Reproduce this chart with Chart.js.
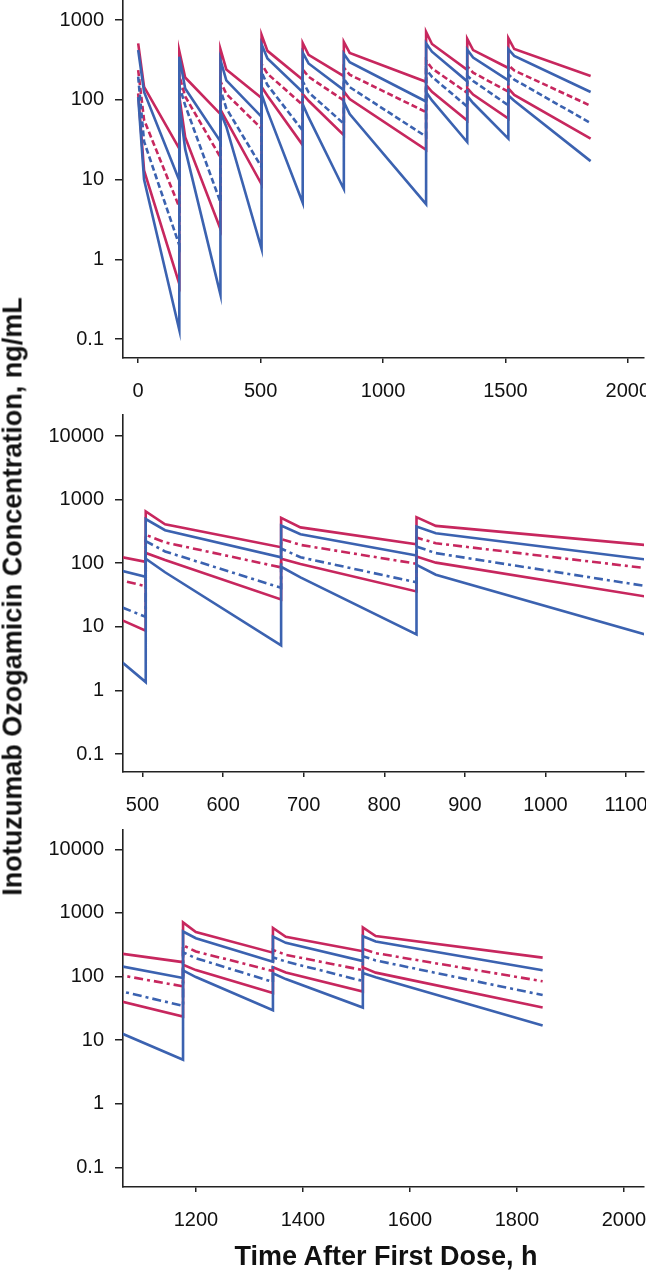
<!DOCTYPE html>
<html>
<head>
<meta charset="utf-8">
<script src="https://cdn.jsdelivr.net/npm/chart.js@4.4.1/dist/chart.umd.min.js"></script>
<style>
  body { margin: 0; background: #fff; }
  #page { position: relative; width: 646px; height: 1271px; overflow: hidden; }
  canvas { position: absolute; left: 0; }
  .title { position: absolute; font-family: "Liberation Sans", Arial, sans-serif; font-weight: bold; font-size: 27px; color: #111; white-space: nowrap; text-align: center; }
</style>
</head>
<body>
<div id="page">
  <canvas id="c1" width="646" height="410" style="top:0px"></canvas>
  <canvas id="c2" width="646" height="420" style="top:410px"></canvas>
  <canvas id="c3" width="646" height="443" style="top:828px"></canvas>
  <div class="title" id="ytitle" style="left:-337px; top:581px; width:700px; transform:rotate(-90deg);">Inotuzumab Ozogamicin Concentration, ng/mL</div>
  <div class="title" style="left:86px; top:1241px; width:600px;">Time After First Dose, h</div>
</div>
<script>
// time points: dose, dose + 24 h, next dose (trough)
const times = [0, 24, 168, 168, 192, 336, 336, 360, 504, 504, 528, 672, 672, 696, 840,
               840, 864, 1176, 1176, 1200, 1344, 1344, 1368, 1512, 1512, 1536, 1848];

// concentrations, ng/mL
const redUpper   = [510, 145, 24.4, 408, 190, 66, 430, 240, 105, 650, 410, 178, 515, 366, 198,
                    530, 386, 168, 710, 500, 237, 580, 420, 250, 592, 432, 198];
const redMedian  = [235, 56, 4.5, 200, 110, 19, 170, 118, 43.5, 280, 212, 86, 240, 194, 98,
                    253, 206, 70, 310, 247, 122, 262, 219, 126, 272, 233, 84];
const redLower   = [120, 13, 0.49, 110, 34, 2.4, 75, 55, 8.7, 145, 112, 27, 118, 97, 36,
                    127, 102, 23.5, 153, 126, 55, 140, 116, 58, 139, 115, 32.5];
const blueUpper  = [420, 125, 9.7, 345, 138, 30, 315, 175, 61, 495, 330, 124, 390, 285, 132,
                    377, 296, 95, 510, 400, 170, 425, 338, 175, 430, 354, 125];
const blueMedian = [195, 30, 1.5, 150, 85, 5.2, 135, 78, 14.3, 222, 153, 41, 170, 124, 50,
                    183, 144, 34.5, 240, 194, 82, 200, 172, 85, 208, 179, 51];
const blueLower  = [108, 10, 0.13, 90, 24, 0.36, 70, 46, 1.35, 118, 72, 5.1, 88, 60, 7.6,
                    94, 66, 4.9, 125, 98, 29.5, 112, 91, 32.5, 113, 97, 17];

// axis ticks
const xTicksTop = [0, 500, 1000, 1500, 2000];
const xTicksMid = [500, 600, 700, 800, 900, 1000, 1100];
const xTicksBottom = [1200, 1400, 1600, 1800, 2000];
const yTicksTop = [0.1, 1, 10, 100, 1000];
const yTicksZoom = [0.1, 1, 10, 100, 1000, 10000];

const RED = '#C7275E';
const BLUE = '#3B62B0';
const AXIS = '#222';
const FONT = '"Liberation Sans", Arial, sans-serif';

function pts(values) {
    return times.map((t, i) => ({ x: t, y: values[i] }));
}

function line(values, color, dash, order) {
    return {
        data: pts(values),
        borderColor: color,
        borderWidth: 2.6,
        borderDash: dash,
        pointRadius: 0,
        tension: 0,
        order: order
    };
}

function makePanel(id, opt) {
    const ctx = document.getElementById(id);
    return new Chart(ctx, {
        type: 'line',
        data: {
            datasets: [
                line(blueUpper, BLUE, [], 0),
                line(blueMedian, BLUE, opt.dash, 0),
                line(blueLower, BLUE, [], 0),
                line(redUpper, RED, [], 1),
                line(redMedian, RED, opt.dash, 1),
                line(redLower, RED, [], 1)
            ]
        },
        options: {
            responsive: false,
            animation: false,
            layout: { padding: { top: opt.padTop, right: 2, left: 0, bottom: 0 } },
            plugins: { legend: { display: false }, tooltip: { enabled: false } },
            scales: {
                x: {
                    type: 'linear',
                    min: opt.xMin,
                    max: opt.xMax,
                    border: { display: true, color: AXIS, width: 1.6 },
                    grid: { drawOnChartArea: false, drawTicks: true, tickLength: 5, color: AXIS, lineWidth: 1.5 },
                    ticks: {
                        padding: 16,
                        color: '#111',
                        font: { family: FONT, size: 20 },
                        maxRotation: 0,
                        callback: v => String(v)
                    },
                    afterBuildTicks: s => { s.ticks = opt.xTicks.map(v => ({ value: v })); },
                    afterFit: s => {
                        s.height = opt.xHeight;
                        s.paddingLeft = 0; s.paddingRight = 0;
                        s.paddingTop = 0; s.paddingBottom = 0;
                    }
                },
                y: {
                    type: 'logarithmic',
                    min: opt.yMin,
                    max: opt.yMax,
                    border: { display: true, color: AXIS, width: 1.6 },
                    grid: { drawOnChartArea: false, drawTicks: true, tickLength: 8, color: AXIS, lineWidth: 1.5 },
                    ticks: {
                        padding: 11,
                        color: '#111',
                        font: { family: FONT, size: 20 },
                        callback: v => String(v)
                    },
                    afterBuildTicks: s => { s.ticks = opt.yTicks.map(v => ({ value: v })); },
                    afterFit: s => {
                        s.width = 123;
                        s.paddingLeft = 0; s.paddingRight = 0;
                        s.paddingTop = 0; s.paddingBottom = 0;
                    }
                }
            }
        }
    });
}

// full time course
makePanel('c1', {
    xMin: -62, xMax: 2066, xTicks: xTicksTop,
    yMin: 0.0578, yMax: 1730, yTicks: yTicksTop,
    dash: [6, 3], padTop: 1, xHeight: 52
});

// cycle 2
makePanel('c2', {
    xMin: 475.8, xMax: 1122.3, xTicks: xTicksMid,
    yMin: 0.0521, yMax: 21400, yTicks: yTicksZoom,
    dash: [9, 4, 3, 4], padTop: 5, xHeight: 58
});

// cycle 3
makePanel('c3', {
    xMin: 1063.8, xMax: 2037.4, xTicks: xTicksBottom,
    yMin: 0.049, yMax: 20100, yTicks: yTicksZoom,
    dash: [9, 4, 3, 4], padTop: 2, xHeight: 84
});
</script>
</body>
</html>
